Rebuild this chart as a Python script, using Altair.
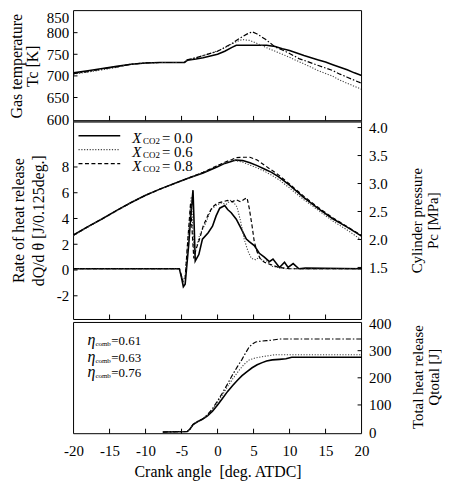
import altair as alt
import pandas as pd

FONT = "Liberation Serif"

# ---------------- data ----------------
series_labels = ["0.0", "0.6", "0.8"]
eta_values = ["0.61", "0.63", "0.76"]

x_axis_values = [-20, -15, -10, -5, 0, 5, 10, 15, 20]
x_tick_values = [-15, -10, -5, 0, 5, 10, 15]
tc_axis_values = [600, 650, 700, 750, 800, 850]
tc_tick_values = [650, 700, 750, 800]
hr_axis_values = [-2, 0, 2, 4, 6, 8]
pc_axis_values = [1.5, 2.0, 2.5, 3.0, 3.5, 4.0]
q_axis_values = [0, 100, 200, 300, 400]
q_tick_values = [100, 200, 300]

# gas temperature Tc [K]
tc_x_00 = [-20, -18, -16, -14, -12, -10, -8, -6, -4.6, -4.2, -3, -2, -1, 0, 1, 2, 2.6, 4, 5.5, 6.8,
           8, 9, 10, 11, 12, 13, 14, 15, 16, 17, 18, 19, 20]
tc_y_00 = [707, 712, 717, 722, 727, 730, 731, 731, 731, 736, 739, 742, 746, 750, 757, 766, 771, 771, 771, 771,
           768, 763, 759, 753, 747, 742, 737, 732, 726, 720, 714, 707, 701]
tc_x_06 = [-20, -18, -16, -14, -12, -10, -8, -6, -4.6, -4.2, -3, -2, -1, 0, 1, 2, 3, 3.5, 4.5, 5.5, 6.7,
           8, 9, 10, 11.3, 12.5, 14, 15.9, 17, 18, 19, 20]
tc_y_06 = [704, 709, 714, 720, 727, 730, 731, 731, 731, 737, 742, 747, 752, 758, 765, 774, 782, 784, 782, 775, 766,
           757, 750, 743, 733, 724, 712, 700, 690, 683, 676, 669]
tc_x_08 = [-20, -18, -16, -14, -12, -10, -8, -6, -4.6, -4.2, -3, -2, -1, 0, 1, 2, 3, 4, 4.8, 5.5, 6.7,
           8, 9, 10, 11.3, 12.5, 14, 15.9, 17, 18, 19, 20]
tc_y_08 = [705, 710, 716, 721, 727, 730, 731, 731, 731, 737, 742, 747, 752, 757, 766, 775, 786, 796, 802, 797, 784,
           767, 760, 752, 740, 733, 724, 713, 704, 697, 690, 683]

# rate of heat release dQ/dtheta [J/0.125deg.]
hr_x_00 = [-20, -5.3, -5.0, -4.75, -4.5, -4.0, -3.7, -3.41, -3.25, -3.1, -2.9, -2.6, -2.1, -1.3, -0.7,
           -0.2, 0.3, 1.0, 1.4, 1.9, 2.6, 3.3, 4.0, 4.4, 5.1, 5.8, 6.5, 7.2, 7.7, 8.6, 9.3, 9.8, 10.5,
           11.3, 12.2, 20]
hr_y_00 = [0.1, 0.1, -0.6, -1.3, -1.1, 2.0, 4.3, 6.2, 3.5, 0.7, 0.9, 1.2, 2.4, 2.9, 3.4,
           4.2, 4.8, 5.0, 4.7, 4.45, 3.95, 3.2, 2.4, 2.2, 1.9, 1.3, 1.0, 0.65, 0.85, 0.2, 0.6, 0.2, 0.5,
           0.1, 0.15, 0.1]
hr_x_06 = [-20, -5.3, -5.0, -4.8, -4.5, -4.1, -3.65, -3.45, -3.25, -3.0, -2.5, -1.6, -0.9, -0.2, 0.5,
           1.2, 1.8, 2.3, 2.7, 3.2, 3.7, 4.2, 4.7, 5.3, 5.8, 6.3, 6.9, 7.5, 8.5, 9.5, 20]
hr_y_06 = [0.1, 0.1, -0.4, -0.8, -0.5, 2.5, 5.7, 3.5, 1.0, 1.6, 2.7, 3.7, 4.7, 5.0, 5.2,
           5.1, 5.4, 5.2, 4.9, 3.8, 2.4, 1.5, 0.9, 0.8, 1.0, 0.7, 0.7, 0.3, 0.2, 0.1, 0.1]
hr_x_08 = [-20, -5.3, -5.0, -4.8, -4.5, -4.2, -3.75, -3.55, -3.3, -3.0, -2.5, -2.0, -1.3, -0.7, 0,
           0.7, 1.4, 2.0, 2.6, 3.2, 3.7, 4.1, 4.4, 4.8, 5.1, 5.5, 5.9, 6.5, 7.5, 8.5, 10, 20]
hr_y_08 = [0.1, 0.1, -0.5, -0.9, -0.6, 1.8, 5.2, 3.2, 0.9, 1.6, 2.4, 3.4, 4.3, 4.9, 5.2,
           5.3, 5.4, 5.3, 5.45, 5.3, 5.5, 5.6, 4.8, 3.4, 2.2, 1.4, 0.9, 0.6, 0.4, 0.2, 0.1, 0.1]

# cylinder pressure Pc [MPa]
pc_x = [-20, -18, -16, -14, -12, -10, -8, -6, -4, -2, 0, 1, 2, 2.5, 3.5, 4.5, 5.5, 6.5, 7.5, 8.5,
        10, 12, 14, 16, 18, 20]
pc_y_00 = [2.08, 2.23, 2.37, 2.52, 2.66, 2.79, 2.90, 3.00, 3.10, 3.19, 3.30, 3.36, 3.40, 3.42, 3.41, 3.37,
           3.32, 3.26, 3.20, 3.12, 2.97, 2.75, 2.55, 2.37, 2.22, 2.06]
pc_y_06 = [2.07, 2.22, 2.37, 2.51, 2.66, 2.79, 2.90, 3.00, 3.10, 3.20, 3.32, 3.37, 3.41, 3.41, 3.38, 3.33,
           3.28, 3.22, 3.15, 3.07, 2.92, 2.71, 2.52, 2.33, 2.17, 1.99]
pc_y_08 = [2.08, 2.23, 2.37, 2.52, 2.66, 2.79, 2.90, 3.00, 3.10, 3.20, 3.32, 3.38, 3.43, 3.46, 3.47, 3.47,
           3.42, 3.33, 3.24, 3.15, 2.99, 2.77, 2.57, 2.39, 2.23, 2.07]

# total heat release Qtotal [J]
q_x_00 = [-7.6, -4.2, -3.8, -3.4, -2.8, -2.1, -1.4, -0.7, 0, 0.7, 1.4, 2.1, 2.8, 3.4, 4.1, 4.8, 5.5,
          6.2, 6.8, 7.6, 8.6, 9.5, 10.3, 20]
q_y_00 = [0, 2, 12, 28, 38, 47, 60, 77, 100, 125, 150, 172, 192, 208, 223, 237, 248,
          256, 262, 266, 268, 270, 276, 276]
q_x_06 = [-7.6, -4.2, -3.8, -3.4, -2.8, -2.1, -1.4, -0.7, 0, 0.7, 1.4, 2.1, 3.0, 3.7, 4.4, 5.1, 5.8,
          6.5, 7.2, 8.0, 20]
q_y_06 = [0, 2, 12, 28, 38, 48, 63, 83, 110, 138, 168, 196, 228, 250, 266, 272, 276,
          279, 282, 285, 285]
q_x_08 = [-7.6, -4.2, -3.8, -3.4, -2.8, -2.1, -1.4, -0.7, 0, 0.7, 1.4, 2.1, 2.8, 3.4, 3.9, 4.4, 4.9,
          5.3, 6.0, 6.8, 7.6, 8.6, 20]
q_y_08 = [0, 2, 12, 28, 38, 48, 64, 86, 115, 145, 178, 212, 243, 268, 292, 314, 326,
          332, 335, 337, 339, 343, 343]

# ---------------- layout / style ----------------
W = 290
H1, H2, H3 = 111, 200, 115
GAP = 3

SOLID = dict(color="black", strokeWidth=1.6)
DOTTED = dict(color="#444444", strokeWidth=1.1, strokeDash=[1.2, 1.6])
DASHED = dict(color="black", strokeWidth=1.2, strokeDash=[4, 2.5])
DASHDOT = dict(color="black", strokeWidth=1.2, strokeDash=[5, 2, 1.5, 2])
STY = {"0.0": SOLID, "0.6": DOTTED, "0.8": DASHED}

XS = alt.Scale(domain=[-20, 20], nice=False, zero=False)
TS = alt.Scale(domain=[596, 851], nice=False, zero=False)
HS = alt.Scale(domain=[-3.84, 11.58], nice=False, zero=False)
PS = alt.Scale(domain=[0.57, 4.12], nice=False, zero=False)
QS = alt.Scale(domain=[-6, 415], nice=False, zero=False)

AX = dict(ticks=False, domain=False, grid=False, labelFont=FONT, labelFontSize=15,
          labelColor="black", titleFont=FONT, titleColor="black", tickCount=40,
          titleFontWeight="normal", labelOverlap=False)

ONE = pd.DataFrame({"k": [0]})
NOAXIS = "none"      # layer must not draw an axis on that channel
INHERIT = "inherit"  # axis left unspecified (merged with the panel's explicit axis)


def enc(field, scale, axis):
    if axis is NOAXIS:
        return dict(field=field, type="quantitative", scale=scale, axis=None)
    if axis is INHERIT:
        return dict(field=field, type="quantitative", scale=scale)
    return dict(field=field, type="quantitative", scale=scale, axis=axis)


def line(xs, ys, style, yscale, yaxis=INHERIT, xaxis=NOAXIS):
    df = pd.DataFrame({"x": xs, "y": ys})
    return alt.Chart(df).mark_line(**style).encode(
        x=alt.X(**enc("x", XS, xaxis)),
        y=alt.Y(**enc("y", yscale, yaxis)),
    )


def xticks(h, xaxis=NOAXIS):
    return alt.Chart(pd.DataFrame({"t": x_tick_values})).mark_rule(color="black", strokeWidth=1).encode(
        x=alt.X(**enc("t", XS, xaxis)), y=alt.value(h), y2=alt.value(h - 5))


def yticks(vals, yscale, side):
    x0, x1 = (0, 4) if side == "left" else (W - 4, W)
    return alt.Chart(pd.DataFrame({"t": vals})).mark_rule(color="black", strokeWidth=1).encode(
        y=alt.Y(**enc("t", yscale, INHERIT)), x=alt.value(x0), x2=alt.value(x1))


def frame(h, top=0):
    return alt.Chart(ONE).mark_rect(fill="transparent", stroke="black", strokeWidth=1).encode(
        x=alt.value(0), x2=alt.value(W), y=alt.value(top), y2=alt.value(h))


def label(text, x, y, size, style="normal"):
    return alt.Chart(ONE).mark_text(text=text, font=FONT, fontSize=size, fontStyle=style,
                                    align="left", baseline="middle", color="black").encode(
        x=alt.value(x), y=alt.value(y))


# ---------------- top panel: gas temperature ----------------
ax_t = alt.Axis(values=tc_axis_values, labelExpr="'' + datum.value", labelFlush=True, labelPadding=5,
                title=["Gas temperature", "Tc [K]"], titleFontSize=16, titlePadding=5.5,
                titleLineHeight=16, **AX)
top = alt.layer(
    line(tc_x_00, tc_y_00, SOLID, TS, yaxis=ax_t),
    line(tc_x_06, tc_y_06, DOTTED, TS),
    line(tc_x_08, tc_y_08, DASHDOT, TS),
    xticks(H1),
    yticks(tc_tick_values, TS, "left"),
    frame(H1),
).properties(width=W, height=H1)

# ---------------- middle panel: heat release rate + pressure ----------------
ax_h = alt.Axis(values=hr_axis_values, labelExpr="'' + datum.value", labelPadding=5,
                title=["Rate of heat release", "dQ/d θ  [J/0.125deg.]"], titleFontSize=16,
                titlePadding=10, titleLineHeight=20, **AX)
ax_p = alt.Axis(orient="right", values=pc_axis_values, labelExpr="format(datum.value, '.1f')",
                labelPadding=7, title=["Cylinder pressure", "Pc [MPa]"], titleFontSize=15,
                titleAngle=270, titleBaseline="top", titlePadding=6.5, titleLineHeight=16, **AX)

legend_layers = []
for i, s in enumerate(series_labels):
    yl = 15 + 14 * i
    legend_layers.append(alt.Chart(ONE).mark_rule(**STY[s]).encode(
        x=alt.value(5), x2=alt.value(47), y=alt.value(yl)))
    legend_layers.append(label("X", 59, yl + 2, 15, "italic"))
    legend_layers.append(label("CO2", 70, yl + 5, 9))
    legend_layers.append(label("= " + s, 89, yl + 2, 15))

mid_left = alt.layer(
    line(hr_x_00, hr_y_00, SOLID, HS, yaxis=ax_h),
    line(hr_x_06, hr_y_06, DOTTED, HS),
    line(hr_x_08, hr_y_08, DASHED, HS),
    xticks(H2),
    yticks(hr_axis_values, HS, "left"),
    frame(H2),
    alt.Chart(ONE).mark_rule(color="#444444", strokeWidth=2).encode(
        x=alt.value(0), x2=alt.value(W), y=alt.value(1)),
    *legend_layers,
)
mid_right = alt.layer(
    line(pc_x, pc_y_00, SOLID, PS, yaxis=ax_p),
    line(pc_x, pc_y_06, DOTTED, PS),
    line(pc_x, pc_y_08, DASHED, PS),
    yticks(pc_axis_values, PS, "right"),
)
middle = alt.layer(mid_left, mid_right).resolve_scale(y="independent").properties(width=W, height=H2)

# ---------------- bottom panel: total heat release ----------------
ax_x = alt.Axis(values=x_axis_values, labelExpr="'' + datum.value", labelFlush=False, labelPadding=9.5,
                title="Crank angle\u00a0\u00a0[deg. ATDC]", titleFontSize=16, titlePadding=6, **AX)
ax_q = alt.Axis(orient="right", values=q_axis_values, labelExpr="'' + datum.value", labelPadding=7,
                title=["Total heat release", "Qtotal [J]"], titleFontSize=15, titleAngle=270,
                titleBaseline="top", titlePadding=3.5, titleLineHeight=16, **AX)

eta_layers = []
for i, e in enumerate(eta_values):
    ye = 21 + [0, 17, 32][i]
    eta_layers.append(label("η", 14, ye, 16, "italic"))
    eta_layers.append(label("comb", 22, ye + 4, 7))
    eta_layers.append(label("=" + e, 38, ye + 1, 13))

bottom = alt.layer(
    line(q_x_00, q_y_00, SOLID, QS, yaxis=ax_q, xaxis=ax_x),
    line(q_x_06, q_y_06, DOTTED, QS, xaxis=INHERIT),
    line(q_x_08, q_y_08, DASHDOT, QS, xaxis=INHERIT),
    xticks(H3, xaxis=INHERIT),
    yticks(q_tick_values, QS, "right"),
    frame(H3, top=GAP),
    *eta_layers,
).properties(width=W, height=H3)

chart = alt.vconcat(top, middle, bottom, spacing=0, bounds="flush").properties(
    padding=0, background="white"
).configure_view(stroke="transparent").configure_axis(labelOverlap=False, tickCount=40)

chart.save("out.html", embed_options={"renderer": "svg", "actions": False})
